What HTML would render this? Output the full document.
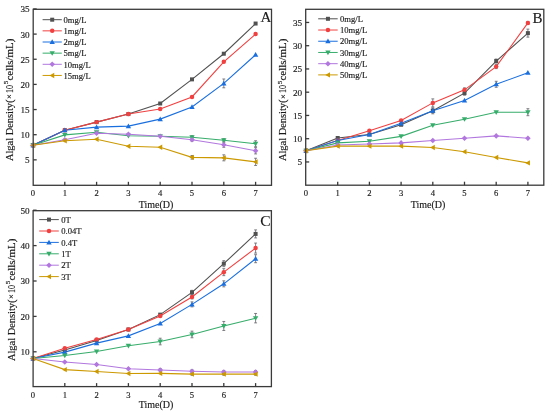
<!DOCTYPE html>
<html><head><meta charset="utf-8"><style>
html,body{margin:0;padding:0;background:#fff;width:550px;height:413px;overflow:hidden}
svg{position:absolute;left:0;top:0}
#w{position:absolute;left:0;top:0;width:550px;height:413px;will-change:transform}
text{font-family:"Liberation Serif", serif;fill:#1a1a1a;stroke:#1a1a1a;stroke-width:0.15}
.b1{stroke-width:0.15}
.b2{stroke-width:0.2}
.b3{stroke-width:0.4}
</style></head><body>
<div id="w"><svg width="550" height="413" viewBox="0 0 550 413">
<polyline points="33.00,145.26 64.80,130.17 96.60,122.12 128.40,114.08 160.20,103.51 192.00,79.37 223.80,53.72 255.60,23.54" fill="none" stroke="#515151" stroke-width="1.1"/>
<polyline points="33.00,145.26 64.80,130.17 96.60,122.12 128.40,114.08 160.20,109.05 192.00,96.97 223.80,61.77 255.60,34.10" fill="none" stroke="#F14040" stroke-width="1.1"/>
<polyline points="33.00,145.26 64.80,130.17 96.60,127.16 128.40,126.15 160.20,119.11 192.00,107.03 223.80,83.39 255.60,54.72" fill="none" stroke="#1A6FDF" stroke-width="1.1"/>
<polyline points="33.00,145.26 64.80,134.90 96.60,132.19 128.40,135.71 160.20,136.21 192.00,137.22 223.80,140.23 255.60,143.75" fill="none" stroke="#37AD6B" stroke-width="1.1"/>
<polyline points="33.00,145.26 64.80,139.73 96.60,133.19 128.40,134.20 160.20,136.21 192.00,139.73 223.80,144.76 255.60,150.80" fill="none" stroke="#B177DE" stroke-width="1.1"/>
<polyline points="33.00,145.26 64.80,140.74 96.60,139.23 128.40,146.27 160.20,147.28 192.00,157.34 223.80,157.84 255.60,161.86" fill="none" stroke="#CC9900" stroke-width="1.1"/>
<path d="M223.80 78.99V87.79M222.35 78.99H225.25M222.35 87.79H225.25" stroke="#6a6a72" stroke-width="0.85" fill="none"/>
<path d="M192.00 135.72V138.72M190.55 135.72H193.45M190.55 138.72H193.45" stroke="#6a6a72" stroke-width="0.85" fill="none"/>
<path d="M192.00 138.23V141.23M190.55 138.23H193.45M190.55 141.23H193.45" stroke="#6a6a72" stroke-width="0.85" fill="none"/>
<path d="M192.00 155.53V159.14M190.55 155.53H193.45M190.55 159.14H193.45" stroke="#6a6a72" stroke-width="0.85" fill="none"/>
<path d="M223.80 138.73V141.73M222.35 138.73H225.25M222.35 141.73H225.25" stroke="#6a6a72" stroke-width="0.85" fill="none"/>
<path d="M223.80 142.26V147.26M222.35 142.26H225.25M222.35 147.26H225.25" stroke="#6a6a72" stroke-width="0.85" fill="none"/>
<path d="M223.80 154.84V160.84M222.35 154.84H225.25M222.35 160.84H225.25" stroke="#6a6a72" stroke-width="0.85" fill="none"/>
<path d="M255.60 140.75V146.75M254.15 140.75H257.05M254.15 146.75H257.05" stroke="#6a6a72" stroke-width="0.85" fill="none"/>
<path d="M255.60 147.70V153.90M254.15 147.70H257.05M254.15 153.90H257.05" stroke="#6a6a72" stroke-width="0.85" fill="none"/>
<path d="M255.60 158.26V165.46M254.15 158.26H257.05M254.15 165.46H257.05" stroke="#6a6a72" stroke-width="0.85" fill="none"/>
<rect x="31.00" y="143.26" width="4.00" height="4.00" fill="#515151"/>
<rect x="62.80" y="128.17" width="4.00" height="4.00" fill="#515151"/>
<rect x="94.60" y="120.12" width="4.00" height="4.00" fill="#515151"/>
<rect x="126.40" y="112.08" width="4.00" height="4.00" fill="#515151"/>
<rect x="158.20" y="101.51" width="4.00" height="4.00" fill="#515151"/>
<rect x="190.00" y="77.37" width="4.00" height="4.00" fill="#515151"/>
<rect x="221.80" y="51.72" width="4.00" height="4.00" fill="#515151"/>
<rect x="253.60" y="21.54" width="4.00" height="4.00" fill="#515151"/>
<circle cx="33.00" cy="145.26" r="2.24" fill="#F14040"/>
<circle cx="64.80" cy="130.17" r="2.24" fill="#F14040"/>
<circle cx="96.60" cy="122.12" r="2.24" fill="#F14040"/>
<circle cx="128.40" cy="114.08" r="2.24" fill="#F14040"/>
<circle cx="160.20" cy="109.05" r="2.24" fill="#F14040"/>
<circle cx="192.00" cy="96.97" r="2.24" fill="#F14040"/>
<circle cx="223.80" cy="61.77" r="2.24" fill="#F14040"/>
<circle cx="255.60" cy="34.10" r="2.24" fill="#F14040"/>
<path d="M33.00 142.56L35.70 147.29L30.30 147.29Z" fill="#1A6FDF"/>
<path d="M64.80 127.47L67.50 132.20L62.10 132.20Z" fill="#1A6FDF"/>
<path d="M96.60 124.45L99.30 129.18L93.90 129.18Z" fill="#1A6FDF"/>
<path d="M128.40 123.45L131.10 128.17L125.70 128.17Z" fill="#1A6FDF"/>
<path d="M160.20 116.41L162.90 121.13L157.50 121.13Z" fill="#1A6FDF"/>
<path d="M192.00 104.33L194.70 109.06L189.30 109.06Z" fill="#1A6FDF"/>
<path d="M223.80 80.69L226.50 85.42L221.10 85.42Z" fill="#1A6FDF"/>
<path d="M255.60 52.02L258.30 56.75L252.90 56.75Z" fill="#1A6FDF"/>
<path d="M33.00 147.96L35.70 143.24L30.30 143.24Z" fill="#37AD6B"/>
<path d="M64.80 137.60L67.50 132.88L62.10 132.88Z" fill="#37AD6B"/>
<path d="M96.60 134.88L99.30 130.16L93.90 130.16Z" fill="#37AD6B"/>
<path d="M128.40 138.41L131.10 133.68L125.70 133.68Z" fill="#37AD6B"/>
<path d="M160.20 138.91L162.90 134.18L157.50 134.18Z" fill="#37AD6B"/>
<path d="M192.00 139.91L194.70 135.19L189.30 135.19Z" fill="#37AD6B"/>
<path d="M223.80 142.93L226.50 138.21L221.10 138.21Z" fill="#37AD6B"/>
<path d="M255.60 146.45L258.30 141.73L252.90 141.73Z" fill="#37AD6B"/>
<path d="M33.00 142.46L35.80 145.26L33.00 148.06L30.20 145.26Z" fill="#B177DE"/>
<path d="M64.80 136.93L67.60 139.73L64.80 142.53L62.00 139.73Z" fill="#B177DE"/>
<path d="M96.60 130.39L99.40 133.19L96.60 135.99L93.80 133.19Z" fill="#B177DE"/>
<path d="M128.40 131.40L131.20 134.20L128.40 137.00L125.60 134.20Z" fill="#B177DE"/>
<path d="M160.20 133.41L163.00 136.21L160.20 139.01L157.40 136.21Z" fill="#B177DE"/>
<path d="M192.00 136.93L194.80 139.73L192.00 142.53L189.20 139.73Z" fill="#B177DE"/>
<path d="M223.80 141.96L226.60 144.76L223.80 147.56L221.00 144.76Z" fill="#B177DE"/>
<path d="M255.60 148.00L258.40 150.80L255.60 153.60L252.80 150.80Z" fill="#B177DE"/>
<path d="M30.30 145.26L35.02 142.56L35.02 147.96Z" fill="#CC9900"/>
<path d="M62.10 140.74L66.83 138.04L66.83 143.44Z" fill="#CC9900"/>
<path d="M93.90 139.23L98.62 136.53L98.62 141.93Z" fill="#CC9900"/>
<path d="M125.70 146.27L130.43 143.57L130.43 148.97Z" fill="#CC9900"/>
<path d="M157.50 147.28L162.22 144.58L162.22 149.97Z" fill="#CC9900"/>
<path d="M189.30 157.34L194.03 154.64L194.03 160.03Z" fill="#CC9900"/>
<path d="M221.10 157.84L225.83 155.14L225.83 160.54Z" fill="#CC9900"/>
<path d="M252.90 161.86L257.62 159.16L257.62 164.56Z" fill="#CC9900"/>
<rect x="33.20" y="9.30" width="238.30" height="176.00" fill="none" stroke="#3a3a3a" stroke-width="1.3"/>
<line x1="64.80" y1="185.30" x2="64.80" y2="181.80" stroke="#3a3a3a" stroke-width="1.3"/>
<line x1="96.60" y1="185.30" x2="96.60" y2="181.80" stroke="#3a3a3a" stroke-width="1.3"/>
<line x1="128.40" y1="185.30" x2="128.40" y2="181.80" stroke="#3a3a3a" stroke-width="1.3"/>
<line x1="160.20" y1="185.30" x2="160.20" y2="181.80" stroke="#3a3a3a" stroke-width="1.3"/>
<line x1="192.00" y1="185.30" x2="192.00" y2="181.80" stroke="#3a3a3a" stroke-width="1.3"/>
<line x1="223.80" y1="185.30" x2="223.80" y2="181.80" stroke="#3a3a3a" stroke-width="1.3"/>
<line x1="255.60" y1="185.30" x2="255.60" y2="181.80" stroke="#3a3a3a" stroke-width="1.3"/>
<line x1="33.20" y1="159.85" x2="36.70" y2="159.85" stroke="#3a3a3a" stroke-width="1.3"/>
<text x="29.70" y="163.25" text-anchor="end" font-size="9.2">5</text>
<line x1="33.20" y1="134.70" x2="36.70" y2="134.70" stroke="#3a3a3a" stroke-width="1.3"/>
<text x="29.70" y="138.10" text-anchor="end" font-size="9.2">10</text>
<line x1="33.20" y1="109.55" x2="36.70" y2="109.55" stroke="#3a3a3a" stroke-width="1.3"/>
<text x="29.70" y="112.95" text-anchor="end" font-size="9.2">15</text>
<line x1="33.20" y1="84.40" x2="36.70" y2="84.40" stroke="#3a3a3a" stroke-width="1.3"/>
<text x="29.70" y="87.80" text-anchor="end" font-size="9.2">20</text>
<line x1="33.20" y1="59.25" x2="36.70" y2="59.25" stroke="#3a3a3a" stroke-width="1.3"/>
<text x="29.70" y="62.65" text-anchor="end" font-size="9.2">25</text>
<line x1="33.20" y1="34.10" x2="36.70" y2="34.10" stroke="#3a3a3a" stroke-width="1.3"/>
<text x="29.70" y="37.50" text-anchor="end" font-size="9.2">30</text>
<line x1="33.20" y1="8.95" x2="36.70" y2="8.95" stroke="#3a3a3a" stroke-width="1.3"/>
<text x="29.70" y="12.35" text-anchor="end" font-size="9.2">35</text>
<text x="33.00" y="196.20" text-anchor="middle" font-size="8.6">0</text>
<text x="64.80" y="196.20" text-anchor="middle" font-size="8.6">1</text>
<text x="96.60" y="196.20" text-anchor="middle" font-size="8.6">2</text>
<text x="128.40" y="196.20" text-anchor="middle" font-size="8.6">3</text>
<text x="160.20" y="196.20" text-anchor="middle" font-size="8.6">4</text>
<text x="192.00" y="196.20" text-anchor="middle" font-size="8.6">5</text>
<text x="223.80" y="196.20" text-anchor="middle" font-size="8.6">6</text>
<text x="255.60" y="196.20" text-anchor="middle" font-size="8.6">7</text>
<text x="156" y="208" text-anchor="middle" font-size="10" class="b1">Time(D)</text>
<text transform="translate(12.5,161.10) rotate(-90)" font-size="10.8" textLength="61.6" lengthAdjust="spacingAndGlyphs" class="b1">Algal Density(</text>
<text transform="translate(11.9,96.50) rotate(-90)" font-size="8.5" text-anchor="middle">×</text>
<text transform="translate(12.5,92.90) rotate(-90)" font-size="10.6" textLength="8.0" lengthAdjust="spacingAndGlyphs" class="b2">10</text>
<text transform="translate(8.2,84.30) rotate(-90)" font-size="7" class="b1">5</text>
<text transform="translate(12.5,80.50) rotate(-90)" font-size="10.6" textLength="41.8" lengthAdjust="spacingAndGlyphs" class="b2">cells/mL)</text>
<text x="271.4" y="22.1" text-anchor="end" font-size="15" class="b1">A</text>
<line x1="42.6" y1="19.70" x2="61.8" y2="19.70" stroke="#515151" stroke-width="1.0"/>
<rect x="50.20" y="17.70" width="4.00" height="4.00" fill="#515151"/>
<text x="63.5" y="22.90" font-size="8.6">0mg/L</text>
<line x1="42.6" y1="30.85" x2="61.8" y2="30.85" stroke="#F14040" stroke-width="1.0"/>
<circle cx="52.20" cy="30.85" r="2.24" fill="#F14040"/>
<text x="63.5" y="34.05" font-size="8.6">1mg/L</text>
<line x1="42.6" y1="42.00" x2="61.8" y2="42.00" stroke="#1A6FDF" stroke-width="1.0"/>
<path d="M52.20 39.30L54.90 44.02L49.50 44.02Z" fill="#1A6FDF"/>
<text x="63.5" y="45.20" font-size="8.6">2mg/L</text>
<line x1="42.6" y1="53.15" x2="61.8" y2="53.15" stroke="#37AD6B" stroke-width="1.0"/>
<path d="M52.20 55.85L54.90 51.13L49.50 51.13Z" fill="#37AD6B"/>
<text x="63.5" y="56.35" font-size="8.6">5mg/L</text>
<line x1="42.6" y1="64.30" x2="61.8" y2="64.30" stroke="#B177DE" stroke-width="1.0"/>
<path d="M52.20 61.50L55.00 64.30L52.20 67.10L49.40 64.30Z" fill="#B177DE"/>
<text x="63.5" y="67.50" font-size="8.6">10mg/L</text>
<line x1="42.6" y1="75.45" x2="61.8" y2="75.45" stroke="#CC9900" stroke-width="1.0"/>
<path d="M49.50 75.45L54.23 72.75L54.23 78.15Z" fill="#CC9900"/>
<text x="63.5" y="78.65" font-size="8.6">15mg/L</text>
<polyline points="306.00,150.79 337.70,138.00 369.40,134.51 401.10,124.75 432.80,110.80 464.50,93.13 496.20,61.04 527.90,33.14" fill="none" stroke="#515151" stroke-width="1.1"/>
<polyline points="306.00,150.79 337.70,140.56 369.40,130.79 401.10,120.56 432.80,102.89 464.50,89.87 496.20,66.62 527.90,22.91" fill="none" stroke="#F14040" stroke-width="1.1"/>
<polyline points="306.00,150.79 337.70,140.56 369.40,134.51 401.10,123.35 432.80,110.80 464.50,100.57 496.20,84.29 527.90,72.67" fill="none" stroke="#1A6FDF" stroke-width="1.1"/>
<polyline points="306.00,150.79 337.70,142.88 369.40,141.26 401.10,136.38 432.80,125.21 464.50,119.17 496.20,112.19 527.90,112.19" fill="none" stroke="#37AD6B" stroke-width="1.1"/>
<polyline points="306.00,150.79 337.70,144.98 369.40,144.05 401.10,142.88 432.80,140.56 464.50,138.23 496.20,135.91 527.90,138.23" fill="none" stroke="#B177DE" stroke-width="1.1"/>
<polyline points="306.00,150.79 337.70,146.14 369.40,146.14 401.10,146.14 432.80,147.53 464.50,151.72 496.20,157.49 527.90,162.88" fill="none" stroke="#CC9900" stroke-width="1.1"/>
<path d="M432.80 98.89V106.89M431.35 98.89H434.25M431.35 106.89H434.25" stroke="#6a6a72" stroke-width="0.85" fill="none"/>
<path d="M432.80 107.80V113.80M431.35 107.80H434.25M431.35 113.80H434.25" stroke="#6a6a72" stroke-width="0.85" fill="none"/>
<path d="M432.80 108.80V112.80M431.35 108.80H434.25M431.35 112.80H434.25" stroke="#6a6a72" stroke-width="0.85" fill="none"/>
<path d="M527.90 29.14V37.14M526.45 29.14H529.35M526.45 37.14H529.35" stroke="#6a6a72" stroke-width="0.85" fill="none"/>
<path d="M527.90 21.41V24.41M526.45 21.41H529.35M526.45 24.41H529.35" stroke="#6a6a72" stroke-width="0.85" fill="none"/>
<path d="M496.20 81.29V87.29M494.75 81.29H497.65M494.75 87.29H497.65" stroke="#6a6a72" stroke-width="0.85" fill="none"/>
<path d="M527.90 108.69V115.69M526.45 108.69H529.35M526.45 115.69H529.35" stroke="#6a6a72" stroke-width="0.85" fill="none"/>
<path d="M496.20 59.04V63.04M494.75 59.04H497.65M494.75 63.04H497.65" stroke="#6a6a72" stroke-width="0.85" fill="none"/>
<path d="M496.20 64.62V68.62M494.75 64.62H497.65M494.75 68.62H497.65" stroke="#6a6a72" stroke-width="0.85" fill="none"/>
<path d="M464.50 87.87V91.87M463.05 87.87H465.95M463.05 91.87H465.95" stroke="#6a6a72" stroke-width="0.85" fill="none"/>
<path d="M464.50 91.13V95.13M463.05 91.13H465.95M463.05 95.13H465.95" stroke="#6a6a72" stroke-width="0.85" fill="none"/>
<rect x="304.00" y="148.79" width="4.00" height="4.00" fill="#515151"/>
<rect x="335.70" y="136.00" width="4.00" height="4.00" fill="#515151"/>
<rect x="367.40" y="132.51" width="4.00" height="4.00" fill="#515151"/>
<rect x="399.10" y="122.75" width="4.00" height="4.00" fill="#515151"/>
<rect x="430.80" y="108.80" width="4.00" height="4.00" fill="#515151"/>
<rect x="462.50" y="91.13" width="4.00" height="4.00" fill="#515151"/>
<rect x="494.20" y="59.04" width="4.00" height="4.00" fill="#515151"/>
<rect x="525.90" y="31.14" width="4.00" height="4.00" fill="#515151"/>
<circle cx="306.00" cy="150.79" r="2.24" fill="#F14040"/>
<circle cx="337.70" cy="140.56" r="2.24" fill="#F14040"/>
<circle cx="369.40" cy="130.79" r="2.24" fill="#F14040"/>
<circle cx="401.10" cy="120.56" r="2.24" fill="#F14040"/>
<circle cx="432.80" cy="102.89" r="2.24" fill="#F14040"/>
<circle cx="464.50" cy="89.87" r="2.24" fill="#F14040"/>
<circle cx="496.20" cy="66.62" r="2.24" fill="#F14040"/>
<circle cx="527.90" cy="22.91" r="2.24" fill="#F14040"/>
<path d="M306.00 148.09L308.70 152.81L303.30 152.81Z" fill="#1A6FDF"/>
<path d="M337.70 137.86L340.40 142.59L335.00 142.59Z" fill="#1A6FDF"/>
<path d="M369.40 131.81L372.10 136.54L366.70 136.54Z" fill="#1A6FDF"/>
<path d="M401.10 120.65L403.80 125.38L398.40 125.38Z" fill="#1A6FDF"/>
<path d="M432.80 108.10L435.50 112.82L430.10 112.82Z" fill="#1A6FDF"/>
<path d="M464.50 97.87L467.20 102.59L461.80 102.59Z" fill="#1A6FDF"/>
<path d="M496.20 81.59L498.90 86.32L493.50 86.32Z" fill="#1A6FDF"/>
<path d="M527.90 69.97L530.60 74.69L525.20 74.69Z" fill="#1A6FDF"/>
<path d="M306.00 153.49L308.70 148.76L303.30 148.76Z" fill="#37AD6B"/>
<path d="M337.70 145.58L340.40 140.86L335.00 140.86Z" fill="#37AD6B"/>
<path d="M369.40 143.96L372.10 139.23L366.70 139.23Z" fill="#37AD6B"/>
<path d="M401.10 139.07L403.80 134.35L398.40 134.35Z" fill="#37AD6B"/>
<path d="M432.80 127.91L435.50 123.19L430.10 123.19Z" fill="#37AD6B"/>
<path d="M464.50 121.87L467.20 117.14L461.80 117.14Z" fill="#37AD6B"/>
<path d="M496.20 114.89L498.90 110.17L493.50 110.17Z" fill="#37AD6B"/>
<path d="M527.90 114.89L530.60 110.17L525.20 110.17Z" fill="#37AD6B"/>
<path d="M306.00 147.99L308.80 150.79L306.00 153.59L303.20 150.79Z" fill="#B177DE"/>
<path d="M337.70 142.18L340.50 144.98L337.70 147.78L334.90 144.98Z" fill="#B177DE"/>
<path d="M369.40 141.25L372.20 144.05L369.40 146.85L366.60 144.05Z" fill="#B177DE"/>
<path d="M401.10 140.08L403.90 142.88L401.10 145.69L398.30 142.88Z" fill="#B177DE"/>
<path d="M432.80 137.76L435.60 140.56L432.80 143.36L430.00 140.56Z" fill="#B177DE"/>
<path d="M464.50 135.43L467.30 138.23L464.50 141.03L461.70 138.23Z" fill="#B177DE"/>
<path d="M496.20 133.11L499.00 135.91L496.20 138.71L493.40 135.91Z" fill="#B177DE"/>
<path d="M527.90 135.43L530.70 138.23L527.90 141.03L525.10 138.23Z" fill="#B177DE"/>
<path d="M303.30 150.79L308.02 148.09L308.02 153.49Z" fill="#CC9900"/>
<path d="M335.00 146.14L339.72 143.44L339.72 148.84Z" fill="#CC9900"/>
<path d="M366.70 146.14L371.42 143.44L371.42 148.84Z" fill="#CC9900"/>
<path d="M398.40 146.14L403.12 143.44L403.12 148.84Z" fill="#CC9900"/>
<path d="M430.10 147.53L434.82 144.84L434.82 150.23Z" fill="#CC9900"/>
<path d="M461.80 151.72L466.52 149.02L466.52 154.42Z" fill="#CC9900"/>
<path d="M493.50 157.49L498.22 154.79L498.22 160.19Z" fill="#CC9900"/>
<path d="M525.20 162.88L529.92 160.18L529.92 165.58Z" fill="#CC9900"/>
<rect x="305.70" y="9.30" width="238.10" height="175.90" fill="none" stroke="#3a3a3a" stroke-width="1.3"/>
<line x1="337.70" y1="185.20" x2="337.70" y2="181.70" stroke="#3a3a3a" stroke-width="1.3"/>
<line x1="369.40" y1="185.20" x2="369.40" y2="181.70" stroke="#3a3a3a" stroke-width="1.3"/>
<line x1="401.10" y1="185.20" x2="401.10" y2="181.70" stroke="#3a3a3a" stroke-width="1.3"/>
<line x1="432.80" y1="185.20" x2="432.80" y2="181.70" stroke="#3a3a3a" stroke-width="1.3"/>
<line x1="464.50" y1="185.20" x2="464.50" y2="181.70" stroke="#3a3a3a" stroke-width="1.3"/>
<line x1="496.20" y1="185.20" x2="496.20" y2="181.70" stroke="#3a3a3a" stroke-width="1.3"/>
<line x1="527.90" y1="185.20" x2="527.90" y2="181.70" stroke="#3a3a3a" stroke-width="1.3"/>
<line x1="305.70" y1="161.95" x2="309.20" y2="161.95" stroke="#3a3a3a" stroke-width="1.3"/>
<text x="302.20" y="165.35" text-anchor="end" font-size="9.2">5</text>
<line x1="305.70" y1="138.70" x2="309.20" y2="138.70" stroke="#3a3a3a" stroke-width="1.3"/>
<text x="302.20" y="142.10" text-anchor="end" font-size="9.2">10</text>
<line x1="305.70" y1="115.45" x2="309.20" y2="115.45" stroke="#3a3a3a" stroke-width="1.3"/>
<text x="302.20" y="118.85" text-anchor="end" font-size="9.2">15</text>
<line x1="305.70" y1="92.20" x2="309.20" y2="92.20" stroke="#3a3a3a" stroke-width="1.3"/>
<text x="302.20" y="95.60" text-anchor="end" font-size="9.2">20</text>
<line x1="305.70" y1="68.95" x2="309.20" y2="68.95" stroke="#3a3a3a" stroke-width="1.3"/>
<text x="302.20" y="72.35" text-anchor="end" font-size="9.2">25</text>
<line x1="305.70" y1="45.70" x2="309.20" y2="45.70" stroke="#3a3a3a" stroke-width="1.3"/>
<text x="302.20" y="49.10" text-anchor="end" font-size="9.2">30</text>
<line x1="305.70" y1="22.45" x2="309.20" y2="22.45" stroke="#3a3a3a" stroke-width="1.3"/>
<text x="302.20" y="25.85" text-anchor="end" font-size="9.2">35</text>
<text x="306.00" y="196.10" text-anchor="middle" font-size="8.6">0</text>
<text x="337.70" y="196.10" text-anchor="middle" font-size="8.6">1</text>
<text x="369.40" y="196.10" text-anchor="middle" font-size="8.6">2</text>
<text x="401.10" y="196.10" text-anchor="middle" font-size="8.6">3</text>
<text x="432.80" y="196.10" text-anchor="middle" font-size="8.6">4</text>
<text x="464.50" y="196.10" text-anchor="middle" font-size="8.6">5</text>
<text x="496.20" y="196.10" text-anchor="middle" font-size="8.6">6</text>
<text x="527.90" y="196.10" text-anchor="middle" font-size="8.6">7</text>
<text x="428" y="208" text-anchor="middle" font-size="10" class="b1">Time(D)</text>
<text transform="translate(286.3,161.10) rotate(-90)" font-size="10.8" textLength="61.6" lengthAdjust="spacingAndGlyphs" class="b1">Algal Density(</text>
<text transform="translate(285.7,96.50) rotate(-90)" font-size="8.5" text-anchor="middle">×</text>
<text transform="translate(286.3,92.90) rotate(-90)" font-size="10.6" textLength="8.0" lengthAdjust="spacingAndGlyphs" class="b2">10</text>
<text transform="translate(282.0,84.30) rotate(-90)" font-size="7" class="b1">5</text>
<text transform="translate(286.3,80.50) rotate(-90)" font-size="10.6" textLength="41.8" lengthAdjust="spacingAndGlyphs" class="b2">cells/mL)</text>
<text x="542.4" y="23.4" text-anchor="end" font-size="15" class="b1">B</text>
<line x1="318.2" y1="18.80" x2="337.7" y2="18.80" stroke="#515151" stroke-width="1.0"/>
<rect x="325.95" y="16.80" width="4.00" height="4.00" fill="#515151"/>
<text x="340" y="22.00" font-size="8.6">0mg/L</text>
<line x1="318.2" y1="30.02" x2="337.7" y2="30.02" stroke="#F14040" stroke-width="1.0"/>
<circle cx="327.95" cy="30.02" r="2.24" fill="#F14040"/>
<text x="340" y="33.22" font-size="8.6">10mg/L</text>
<line x1="318.2" y1="41.24" x2="337.7" y2="41.24" stroke="#1A6FDF" stroke-width="1.0"/>
<path d="M327.95 38.54L330.65 43.27L325.25 43.27Z" fill="#1A6FDF"/>
<text x="340" y="44.44" font-size="8.6">20mg/L</text>
<line x1="318.2" y1="52.46" x2="337.7" y2="52.46" stroke="#37AD6B" stroke-width="1.0"/>
<path d="M327.95 55.16L330.65 50.44L325.25 50.44Z" fill="#37AD6B"/>
<text x="340" y="55.66" font-size="8.6">30mg/L</text>
<line x1="318.2" y1="63.68" x2="337.7" y2="63.68" stroke="#B177DE" stroke-width="1.0"/>
<path d="M327.95 60.88L330.75 63.68L327.95 66.48L325.15 63.68Z" fill="#B177DE"/>
<text x="340" y="66.88" font-size="8.6">40mg/L</text>
<line x1="318.2" y1="74.90" x2="337.7" y2="74.90" stroke="#CC9900" stroke-width="1.0"/>
<path d="M325.25 74.90L329.97 72.20L329.97 77.60Z" fill="#CC9900"/>
<text x="340" y="78.10" font-size="8.6">50mg/L</text>
<polyline points="33.00,358.53 64.80,350.03 96.60,340.47 128.40,329.50 160.20,314.63 192.00,292.33 223.80,263.65 255.60,233.92" fill="none" stroke="#515151" stroke-width="1.1"/>
<polyline points="33.00,358.53 64.80,348.26 96.60,339.41 128.40,329.50 160.20,316.05 192.00,296.93 223.80,272.15 255.60,248.08" fill="none" stroke="#F14040" stroke-width="1.1"/>
<polyline points="33.00,358.53 64.80,352.15 96.60,343.13 128.40,335.87 160.20,323.48 192.00,304.36 223.80,283.83 255.60,258.70" fill="none" stroke="#1A6FDF" stroke-width="1.1"/>
<polyline points="33.00,358.53 64.80,355.48 96.60,351.45 128.40,345.78 160.20,341.53 192.00,334.45 223.80,325.96 255.60,318.17" fill="none" stroke="#37AD6B" stroke-width="1.1"/>
<polyline points="33.00,358.53 64.80,362.07 96.60,364.54 128.40,368.79 160.20,370.03 192.00,371.27 223.80,371.98 255.60,371.98" fill="none" stroke="#B177DE" stroke-width="1.1"/>
<polyline points="33.00,358.53 64.80,369.64 96.60,371.45 128.40,373.57 160.20,373.39 192.00,374.10 223.80,374.10 255.60,374.10" fill="none" stroke="#CC9900" stroke-width="1.1"/>
<path d="M192.00 290.33V294.33M190.55 290.33H193.45M190.55 294.33H193.45" stroke="#6a6a72" stroke-width="0.85" fill="none"/>
<path d="M223.80 260.65V266.65M222.35 260.65H225.25M222.35 266.65H225.25" stroke="#6a6a72" stroke-width="0.85" fill="none"/>
<path d="M255.60 229.92V237.92M254.15 229.92H257.05M254.15 237.92H257.05" stroke="#6a6a72" stroke-width="0.85" fill="none"/>
<path d="M192.00 294.93V298.93M190.55 294.93H193.45M190.55 298.93H193.45" stroke="#6a6a72" stroke-width="0.85" fill="none"/>
<path d="M223.80 268.65V275.65M222.35 268.65H225.25M222.35 275.65H225.25" stroke="#6a6a72" stroke-width="0.85" fill="none"/>
<path d="M255.60 243.08V253.08M254.15 243.08H257.05M254.15 253.08H257.05" stroke="#6a6a72" stroke-width="0.85" fill="none"/>
<path d="M192.00 301.86V306.86M190.55 301.86H193.45M190.55 306.86H193.45" stroke="#6a6a72" stroke-width="0.85" fill="none"/>
<path d="M223.80 280.83V286.83M222.35 280.83H225.25M222.35 286.83H225.25" stroke="#6a6a72" stroke-width="0.85" fill="none"/>
<path d="M255.60 254.70V262.70M254.15 254.70H257.05M254.15 262.70H257.05" stroke="#6a6a72" stroke-width="0.85" fill="none"/>
<path d="M160.20 338.23V344.83M158.75 338.23H161.65M158.75 344.83H161.65" stroke="#6a6a72" stroke-width="0.85" fill="none"/>
<path d="M192.00 331.15V337.75M190.55 331.15H193.45M190.55 337.75H193.45" stroke="#6a6a72" stroke-width="0.85" fill="none"/>
<path d="M223.80 321.46V330.46M222.35 321.46H225.25M222.35 330.46H225.25" stroke="#6a6a72" stroke-width="0.85" fill="none"/>
<path d="M255.60 313.47V322.87M254.15 313.47H257.05M254.15 322.87H257.05" stroke="#6a6a72" stroke-width="0.85" fill="none"/>
<path d="M160.20 368.53V371.53M158.75 368.53H161.65M158.75 371.53H161.65" stroke="#6a6a72" stroke-width="0.85" fill="none"/>
<path d="M192.00 369.77V372.77M190.55 369.77H193.45M190.55 372.77H193.45" stroke="#6a6a72" stroke-width="0.85" fill="none"/>
<path d="M223.80 370.48V373.48M222.35 370.48H225.25M222.35 373.48H225.25" stroke="#6a6a72" stroke-width="0.85" fill="none"/>
<path d="M255.60 370.48V373.48M254.15 370.48H257.05M254.15 373.48H257.05" stroke="#6a6a72" stroke-width="0.85" fill="none"/>
<path d="M192.00 372.90V375.30M190.55 372.90H193.45M190.55 375.30H193.45" stroke="#6a6a72" stroke-width="0.85" fill="none"/>
<path d="M223.80 372.90V375.30M222.35 372.90H225.25M222.35 375.30H225.25" stroke="#6a6a72" stroke-width="0.85" fill="none"/>
<path d="M255.60 372.90V375.30M254.15 372.90H257.05M254.15 375.30H257.05" stroke="#6a6a72" stroke-width="0.85" fill="none"/>
<rect x="31.00" y="356.53" width="4.00" height="4.00" fill="#515151"/>
<rect x="62.80" y="348.03" width="4.00" height="4.00" fill="#515151"/>
<rect x="94.60" y="338.47" width="4.00" height="4.00" fill="#515151"/>
<rect x="126.40" y="327.50" width="4.00" height="4.00" fill="#515151"/>
<rect x="158.20" y="312.63" width="4.00" height="4.00" fill="#515151"/>
<rect x="190.00" y="290.33" width="4.00" height="4.00" fill="#515151"/>
<rect x="221.80" y="261.65" width="4.00" height="4.00" fill="#515151"/>
<rect x="253.60" y="231.92" width="4.00" height="4.00" fill="#515151"/>
<circle cx="33.00" cy="358.53" r="2.24" fill="#F14040"/>
<circle cx="64.80" cy="348.26" r="2.24" fill="#F14040"/>
<circle cx="96.60" cy="339.41" r="2.24" fill="#F14040"/>
<circle cx="128.40" cy="329.50" r="2.24" fill="#F14040"/>
<circle cx="160.20" cy="316.05" r="2.24" fill="#F14040"/>
<circle cx="192.00" cy="296.93" r="2.24" fill="#F14040"/>
<circle cx="223.80" cy="272.15" r="2.24" fill="#F14040"/>
<circle cx="255.60" cy="248.08" r="2.24" fill="#F14040"/>
<path d="M33.00 355.83L35.70 360.55L30.30 360.55Z" fill="#1A6FDF"/>
<path d="M64.80 349.45L67.50 354.18L62.10 354.18Z" fill="#1A6FDF"/>
<path d="M96.60 340.43L99.30 345.15L93.90 345.15Z" fill="#1A6FDF"/>
<path d="M128.40 333.17L131.10 337.89L125.70 337.89Z" fill="#1A6FDF"/>
<path d="M160.20 320.78L162.90 325.50L157.50 325.50Z" fill="#1A6FDF"/>
<path d="M192.00 301.66L194.70 306.39L189.30 306.39Z" fill="#1A6FDF"/>
<path d="M223.80 281.13L226.50 285.86L221.10 285.86Z" fill="#1A6FDF"/>
<path d="M255.60 256.00L258.30 260.72L252.90 260.72Z" fill="#1A6FDF"/>
<path d="M33.00 361.23L35.70 356.50L30.30 356.50Z" fill="#37AD6B"/>
<path d="M64.80 358.18L67.50 353.46L62.10 353.46Z" fill="#37AD6B"/>
<path d="M96.60 354.15L99.30 349.42L93.90 349.42Z" fill="#37AD6B"/>
<path d="M128.40 348.48L131.10 343.76L125.70 343.76Z" fill="#37AD6B"/>
<path d="M160.20 344.23L162.90 339.51L157.50 339.51Z" fill="#37AD6B"/>
<path d="M192.00 337.15L194.70 332.43L189.30 332.43Z" fill="#37AD6B"/>
<path d="M223.80 328.66L226.50 323.93L221.10 323.93Z" fill="#37AD6B"/>
<path d="M255.60 320.87L258.30 316.14L252.90 316.14Z" fill="#37AD6B"/>
<path d="M33.00 355.73L35.80 358.53L33.00 361.33L30.20 358.53Z" fill="#B177DE"/>
<path d="M64.80 359.27L67.60 362.07L64.80 364.87L62.00 362.07Z" fill="#B177DE"/>
<path d="M96.60 361.74L99.40 364.54L96.60 367.34L93.80 364.54Z" fill="#B177DE"/>
<path d="M128.40 365.99L131.20 368.79L128.40 371.59L125.60 368.79Z" fill="#B177DE"/>
<path d="M160.20 367.23L163.00 370.03L160.20 372.83L157.40 370.03Z" fill="#B177DE"/>
<path d="M192.00 368.47L194.80 371.27L192.00 374.07L189.20 371.27Z" fill="#B177DE"/>
<path d="M223.80 369.18L226.60 371.98L223.80 374.78L221.00 371.98Z" fill="#B177DE"/>
<path d="M255.60 369.18L258.40 371.98L255.60 374.78L252.80 371.98Z" fill="#B177DE"/>
<path d="M30.30 358.53L35.02 355.83L35.02 361.23Z" fill="#CC9900"/>
<path d="M62.10 369.64L66.83 366.94L66.83 372.34Z" fill="#CC9900"/>
<path d="M93.90 371.45L98.62 368.75L98.62 374.15Z" fill="#CC9900"/>
<path d="M125.70 373.57L130.43 370.87L130.43 376.27Z" fill="#CC9900"/>
<path d="M157.50 373.39L162.22 370.69L162.22 376.09Z" fill="#CC9900"/>
<path d="M189.30 374.10L194.03 371.40L194.03 376.80Z" fill="#CC9900"/>
<path d="M221.10 374.10L225.83 371.40L225.83 376.80Z" fill="#CC9900"/>
<path d="M252.90 374.10L257.62 371.40L257.62 376.80Z" fill="#CC9900"/>
<rect x="33.10" y="210.70" width="238.30" height="175.90" fill="none" stroke="#3a3a3a" stroke-width="1.3"/>
<line x1="64.80" y1="386.60" x2="64.80" y2="383.10" stroke="#3a3a3a" stroke-width="1.3"/>
<line x1="96.60" y1="386.60" x2="96.60" y2="383.10" stroke="#3a3a3a" stroke-width="1.3"/>
<line x1="128.40" y1="386.60" x2="128.40" y2="383.10" stroke="#3a3a3a" stroke-width="1.3"/>
<line x1="160.20" y1="386.60" x2="160.20" y2="383.10" stroke="#3a3a3a" stroke-width="1.3"/>
<line x1="192.00" y1="386.60" x2="192.00" y2="383.10" stroke="#3a3a3a" stroke-width="1.3"/>
<line x1="223.80" y1="386.60" x2="223.80" y2="383.10" stroke="#3a3a3a" stroke-width="1.3"/>
<line x1="255.60" y1="386.60" x2="255.60" y2="383.10" stroke="#3a3a3a" stroke-width="1.3"/>
<line x1="33.10" y1="351.80" x2="36.60" y2="351.80" stroke="#3a3a3a" stroke-width="1.3"/>
<text x="29.60" y="355.20" text-anchor="end" font-size="9.2">10</text>
<line x1="33.10" y1="316.40" x2="36.60" y2="316.40" stroke="#3a3a3a" stroke-width="1.3"/>
<text x="29.60" y="319.80" text-anchor="end" font-size="9.2">20</text>
<line x1="33.10" y1="281.00" x2="36.60" y2="281.00" stroke="#3a3a3a" stroke-width="1.3"/>
<text x="29.60" y="284.40" text-anchor="end" font-size="9.2">30</text>
<line x1="33.10" y1="245.60" x2="36.60" y2="245.60" stroke="#3a3a3a" stroke-width="1.3"/>
<text x="29.60" y="249.00" text-anchor="end" font-size="9.2">40</text>
<line x1="33.10" y1="210.20" x2="36.60" y2="210.20" stroke="#3a3a3a" stroke-width="1.3"/>
<text x="29.60" y="213.60" text-anchor="end" font-size="9.2">50</text>
<text x="33.00" y="397.50" text-anchor="middle" font-size="8.6">0</text>
<text x="64.80" y="397.50" text-anchor="middle" font-size="8.6">1</text>
<text x="96.60" y="397.50" text-anchor="middle" font-size="8.6">2</text>
<text x="128.40" y="397.50" text-anchor="middle" font-size="8.6">3</text>
<text x="160.20" y="397.50" text-anchor="middle" font-size="8.6">4</text>
<text x="192.00" y="397.50" text-anchor="middle" font-size="8.6">5</text>
<text x="223.80" y="397.50" text-anchor="middle" font-size="8.6">6</text>
<text x="255.60" y="397.50" text-anchor="middle" font-size="8.6">7</text>
<text x="156" y="408.4" text-anchor="middle" font-size="10" class="b1">Time(D)</text>
<text transform="translate(14.7,361.10) rotate(-90)" font-size="10.8" textLength="61.6" lengthAdjust="spacingAndGlyphs" class="b1">Algal Density(</text>
<text transform="translate(14.1,296.50) rotate(-90)" font-size="8.5" text-anchor="middle">×</text>
<text transform="translate(14.7,292.90) rotate(-90)" font-size="10.6" textLength="8.0" lengthAdjust="spacingAndGlyphs" class="b2">10</text>
<text transform="translate(10.399999999999999,284.30) rotate(-90)" font-size="7" class="b1">5</text>
<text transform="translate(14.7,280.50) rotate(-90)" font-size="10.6" textLength="41.8" lengthAdjust="spacingAndGlyphs" class="b2">cells/mL)</text>
<text x="270.6" y="225.6" text-anchor="end" font-size="15.5" class="b1">C</text>
<line x1="39.2" y1="219.60" x2="58.8" y2="219.60" stroke="#515151" stroke-width="1.0"/>
<rect x="47.00" y="217.60" width="4.00" height="4.00" fill="#515151"/>
<text x="61.2" y="222.80" font-size="8.6">0T</text>
<line x1="39.2" y1="231.00" x2="58.8" y2="231.00" stroke="#F14040" stroke-width="1.0"/>
<circle cx="49.00" cy="231.00" r="2.24" fill="#F14040"/>
<text x="61.2" y="234.20" font-size="8.6">0.04T</text>
<line x1="39.2" y1="242.40" x2="58.8" y2="242.40" stroke="#1A6FDF" stroke-width="1.0"/>
<path d="M49.00 239.70L51.70 244.43L46.30 244.43Z" fill="#1A6FDF"/>
<text x="61.2" y="245.60" font-size="8.6">0.4T</text>
<line x1="39.2" y1="253.80" x2="58.8" y2="253.80" stroke="#37AD6B" stroke-width="1.0"/>
<path d="M49.00 256.50L51.70 251.78L46.30 251.78Z" fill="#37AD6B"/>
<text x="61.2" y="257.00" font-size="8.6">1T</text>
<line x1="39.2" y1="265.20" x2="58.8" y2="265.20" stroke="#B177DE" stroke-width="1.0"/>
<path d="M49.00 262.40L51.80 265.20L49.00 268.00L46.20 265.20Z" fill="#B177DE"/>
<text x="61.2" y="268.40" font-size="8.6">2T</text>
<line x1="39.2" y1="276.60" x2="58.8" y2="276.60" stroke="#CC9900" stroke-width="1.0"/>
<path d="M46.30 276.60L51.02 273.90L51.02 279.30Z" fill="#CC9900"/>
<text x="61.2" y="279.80" font-size="8.6">3T</text>
</svg></div></body></html>
